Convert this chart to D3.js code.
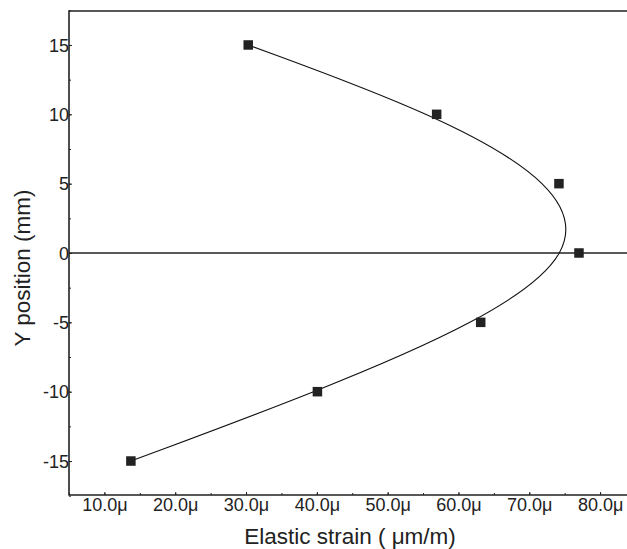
<!DOCTYPE html>
<html>
<head>
<meta charset="utf-8">
<script src="https://cdn.jsdelivr.net/npm/d3@7"></script>
<style>
  html, body { margin: 0; padding: 0; background: #fff; }
  svg { display: block; font-family: Arial, "Liberation Sans", sans-serif; }
</style>
</head>
<body>
<svg width="627" height="549"></svg>
<script>
// measured points (strain in micro-strain, position in mm)
var yPosition = [-15, -10, -5, 0, 5, 10, 15];
var strainMicro = [13.74, 40.08, 63.14, 77.02, 74.19, 56.92, 30.31];
var xTickValues = [10, 20, 30, 40, 50, 60, 70, 80];
var yTickValues = [-15, -10, -5, 0, 5, 10, 15];

var svg = d3.select("svg"),
    plotLeft = 69, plotRight = 627, plotTop = 11, plotBottom = 495,
    ink = "#222";

var x = d3.scaleLinear().domain([5, 83.8]).range([plotLeft, plotRight]);
var y = d3.scaleLinear().domain([-17.45, 17.45]).range([plotBottom, plotTop]);

var points = yPosition.map(function(d, i) { return {y: d, x: strainMicro[i]}; });

// minor ticks (inside)
svg.append("g")
    .attr("transform", "translate(0," + plotBottom + ")")
    .call(d3.axisBottom(x).tickValues(d3.range(5, 84, 5)).tickSize(-2).tickFormat(""))
    .call(function(g) { g.select(".domain").remove(); g.selectAll("line").attr("stroke", ink); });
svg.append("g")
    .attr("transform", "translate(" + plotLeft + ",0)")
    .call(d3.axisLeft(y).tickValues(d3.range(-17.5, 17.6, 2.5)).tickSize(-2).tickFormat(""))
    .call(function(g) { g.select(".domain").remove(); g.selectAll("line").attr("stroke", ink); });

// x axis
svg.append("g")
    .attr("transform", "translate(0," + plotBottom + ")")
    .call(d3.axisBottom(x).tickValues(xTickValues).tickSize(-3).tickPadding(6)
        .tickFormat(function(d) { return d.toFixed(1) + "\u03bc"; }))
    .call(function(g) {
        g.select(".domain").remove();
        g.selectAll("line").attr("stroke", ink);
        g.selectAll("text").attr("font-size", 18).attr("fill", ink)
            .attr("font-family", "Arial, 'Liberation Sans', sans-serif")
            .attr("dy", "0.71em").attr("y", 3);
    });

// y axis (plain hyphen for negatives, like the original)
svg.append("g")
    .attr("transform", "translate(" + plotLeft + ",0)")
    .call(d3.axisLeft(y).tickValues(yTickValues).tickSize(-3).tickPadding(2)
        .tickFormat(function(d) { return String(d); }))
    .call(function(g) {
        g.select(".domain").remove();
        g.selectAll("line").attr("stroke", ink);
        g.selectAll("text").attr("font-size", 18).attr("fill", ink)
            .attr("font-family", "Arial, 'Liberation Sans', sans-serif")
            .attr("x", 0).attr("dy", "0.35em");
    });

// frame (no right edge, it runs off the picture)
svg.append("path")
    .attr("d", "M" + plotRight + "," + plotTop + "H" + plotLeft + "V" + plotBottom + "H" + plotRight)
    .attr("fill", "none")
    .attr("stroke", ink)
    .attr("stroke-width", 1.6);

// zero line
svg.append("line")
    .attr("x1", plotLeft).attr("x2", plotRight)
    .attr("y1", y(0)).attr("y2", y(0))
    .attr("stroke", ink)
    .attr("stroke-width", 1.6);

// smoothed connection
var line = d3.line()
    .x(function(d) { return x(d.x); })
    .y(function(d) { return y(d.y); })
    .curve(d3.curveBasis);

svg.append("path")
    .datum(points)
    .attr("fill", "none")
    .attr("stroke", "#111")
    .attr("stroke-width", 1.1)
    .attr("d", line);

// markers
var s = 9.5;
svg.append("g").selectAll("rect")
    .data(points)
    .enter().append("rect")
    .attr("x", function(d) { return x(d.x) - s / 2; })
    .attr("y", function(d) { return y(d.y) - s / 2; })
    .attr("width", s)
    .attr("height", s)
    .attr("fill", ink);

// axis titles
svg.append("text")
    .attr("x", 350)
    .attr("y", 544)
    .attr("text-anchor", "middle")
    .attr("font-size", 22.5)
    .attr("fill", ink)
    .text("Elastic strain ( \u03bcm/m)");

svg.append("text")
    .attr("transform", "translate(30,268) rotate(-90)")
    .attr("text-anchor", "middle")
    .attr("font-size", 22.5)
    .attr("fill", ink)
    .text("Y position (mm)");
</script>
</body>
</html>
